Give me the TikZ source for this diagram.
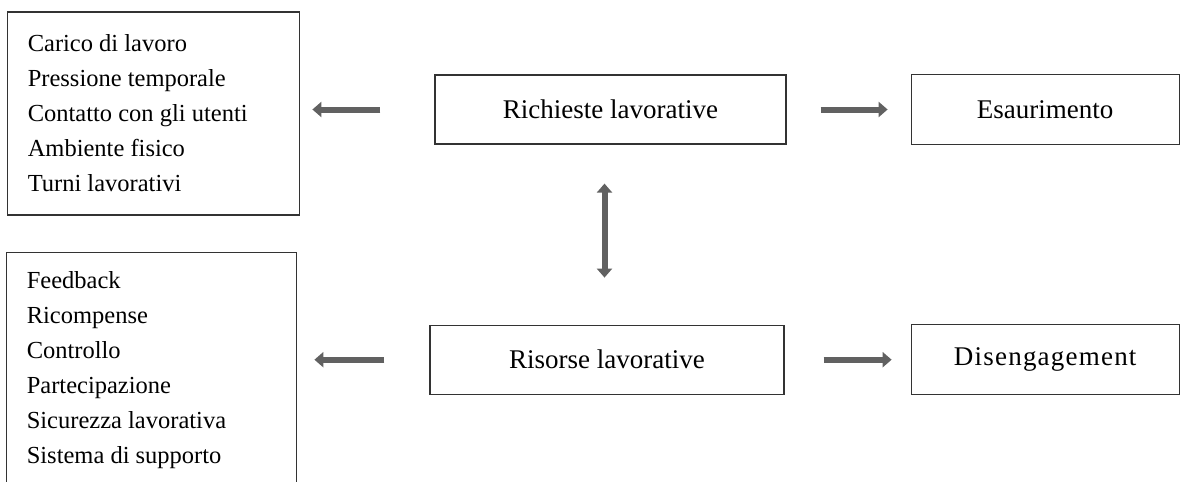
\documentclass[tikz,border=0pt]{standalone}
\usepackage{fontspec}
\setmainfont{Liberation Serif}
\usetikzlibrary{arrows.meta,
                positioning}

\begin{document}
\begin{tikzpicture}[
    font=\fontsize{13.5pt}{17.5pt}\selectfont,
    box/.style = {draw=black!80, line width=0.6pt, inner sep=0pt, align=center},
   voce/.style = {box, minimum width=175.5pt, minimum height=34.5pt},
   esito/.style = {box, minimum width=134pt, minimum height=35pt},
  elenco/.style = {draw=black!80, line width=0.6pt, inner xsep=10pt, inner ysep=0pt, align=flush left,
                   font=\fontsize{12.25pt}{17.5pt}\selectfont},
  freccia/.style = {-{Triangle[length=4.5pt,width=7.5pt]}, line width=3pt, draw=black!62}
                    ]
  \useasboundingbox (0,0) rectangle (590.5pt,-240.5pt);
  %
  \node [voce] (richieste) at (305.25pt,-54.75pt) {Richieste lavorative};
  \node [esito, right=62pt of richieste] (esaurimento) {Esaurimento};
  \node [elenco, text width=126pt, minimum height=101.5pt, left=67pt of richieste, yshift=-2pt] (carichi)
        {Carico di lavoro\\ Pressione temporale\\ Contatto con gli utenti\\ Ambiente fisico\\ Turni lavorativi};
  %
  \node [voce, minimum width=177pt, below=90pt of richieste, xshift=-1.75pt] (risorse) {Risorse lavorative};
  \node [esito, right=63pt of risorse] (disengagement) {\addfontfeature{LetterSpace=4.5}Disengagement};
  \node [elenco, text width=125pt, minimum height=117.5pt, left=66pt of risorse, yshift=-5pt] (supporti)
        {Feedback\\ Ricompense\\ Controllo\\ Partecipazione\\ Sicurezza lavorativa\\ Sistema di supporto};
  %---
  \draw [freccia, shorten <=27pt, shorten >=6pt]     (richieste.west) -- (carichi.east |- richieste.west);
  \draw [freccia, shorten <=17pt, shorten >=11.5pt]  (richieste.east) -- (esaurimento.west);
  \draw [freccia, shorten <=22.5pt, shorten >=8.5pt] (risorse.west) -- (supporti.east |- risorse.west);
  \draw [freccia, shorten <=19.5pt, shorten >=9.5pt] (risorse.east) -- (disengagement.west);
  \draw [freccia, {Triangle[length=4.5pt,width=7.5pt]}-{Triangle[length=4.5pt,width=7.5pt]},
         shorten <=19.5pt, shorten >=23.5pt] ([xshift=-3pt]richieste.south) -- ([xshift=-3pt]richieste.south |- risorse.north);
\end{tikzpicture}
\end{document}
